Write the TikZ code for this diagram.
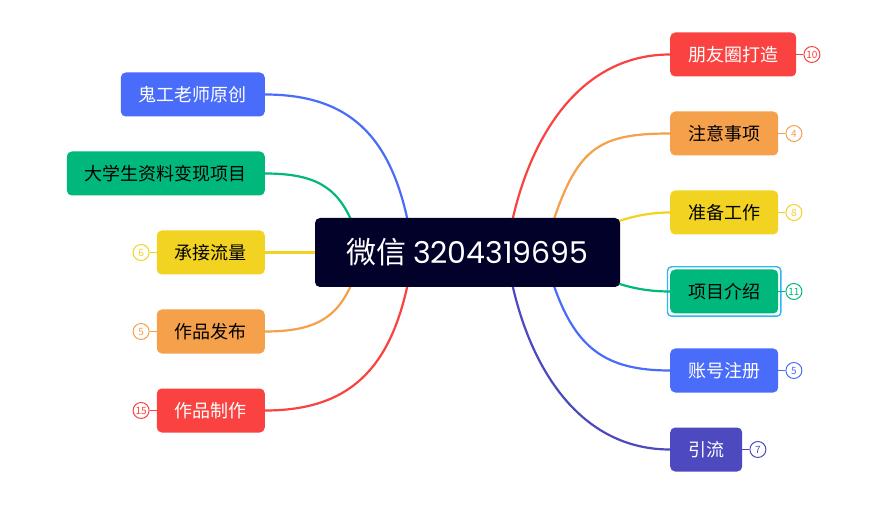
\documentclass[tikz,border=0pt]{standalone}
\usepackage{fontspec}
\setmainfont{Noto Sans CJK SC}
\newfontfamily\numfont{Poppins}
\usetikzlibrary{positioning,fit}
\definecolor{xred}{HTML}{FA4340}
\definecolor{xorange}{HTML}{F5A04B}
\definecolor{xyellow}{HTML}{F2D322}
\definecolor{xgreen}{HTML}{00B87B}
\definecolor{xblue}{HTML}{4A6CFA}
\definecolor{xpurple}{HTML}{4D49BE}
\definecolor{xroot}{HTML}{02012A}
\definecolor{xsel}{HTML}{2DB8F0}
\tikzset{
  topic/.style={rounded corners=5pt, minimum height=44pt, inner xsep=18pt,
    inner ysep=0pt, font=\fontsize{18}{18}\selectfont},
  root/.style={rounded corners=5pt, fill=xroot, text=white, minimum width=305pt,
    minimum height=69pt, font=\fontsize{30}{30}\selectfont},
  branch/.style={line width=2.2pt},
  badge/.style={circle, draw, line width=1pt, fill=white, minimum size=16pt,
    inner sep=0pt, font=\fontsize{10}{10}\selectfont},
  selbox/.style={draw=xsel, line width=1.4pt, rounded corners=4pt, inner sep=2.5pt},
}
\begin{document}
\begin{tikzpicture}[x=1pt,y=-1pt]
  \fill[white] (0,0) rectangle (891,510);
  \useasboundingbox (0,0) rectangle (891,510);
  % 右侧主题
  \foreach \n/\y/\col/\tc/\txt in {r1/54.5/xred/white/朋友圈打造,
      r2/133.5/xorange/black/注意事项, r3/212.5/xyellow/black/准备工作,
      r4/291.5/xgreen/black/项目介绍, r5/370.5/xblue/white/账号注册,
      r6/449.5/xpurple/white/引流}
    \node[topic, fill=\col, text=\tc, anchor=west] (\n) at (670,\y) {\txt};
  % 左侧主题
  \foreach \n/\y/\col/\tc/\txt in {l1/94.5/xblue/white/鬼工老师原创,
      l2/173.5/xgreen/black/大学生资料变现项目, l3/252.5/xyellow/black/承接流量,
      l4/331.5/xorange/black/作品发布, l5/410.5/xred/white/作品制作}
    \node[topic, fill=\col, text=\tc, anchor=east] (\n) at (265,\y) {\txt};
  \node[selbox, fit=(r4)] (sel) {};
  % 数字标记
  \foreach \n/\num/\col in {r1/10/xred, r2/4/xorange, r3/8/xyellow,
      r4/11/xgreen, r5/5/xblue, r6/7/xpurple} {
    \node[badge, draw=\col, text=\col, right=7pt of \n] (b\n) {\num};
    \draw[\col, line width=1.5pt] (\n.east) -- (b\n.west);
  }
  \foreach \n/\num/\col in {l3/6/xyellow, l4/5/xorange, l5/15/xred} {
    \node[badge, draw=\col, text=\col, left=7pt of \n] (b\n) {\num};
    \draw[\col, line width=1.5pt] (\n.west) -- (b\n.east);
  }
  % 分支起点, 藏在中心主题下面
  \coordinate (o-r1) at (512,222);
  \coordinate (o-r2) at (553,222);
  \coordinate (o-r3) at (600,228);
  \coordinate (o-r4) at (600,277);
  \coordinate (o-r5) at (553,283);
  \coordinate (o-r6) at (512,283);
  \coordinate (o-l1) at (408,222);
  \coordinate (o-l2) at (352,222);
  \coordinate (o-l3) at (320,252.5);
  \coordinate (o-l4) at (352,283);
  \coordinate (o-l5) at (408,283);
  \draw[branch, xred] (o-r1) .. controls +(19,-87) and +(-89,0) .. (r1.west);
  \draw[branch, xorange] (o-r2) .. controls +(25,-75) and +(-70,0) .. (r2.west);
  \draw[branch, xyellow] (o-r3) .. controls +(25,-10) and +(-25,0) .. (r3.west);
  \draw[branch, xgreen] (o-r4) .. controls +(25,10) and +(-25,0) .. (r4.west);
  \draw[branch, xblue] (o-r5) .. controls +(22,65) and +(-65,0) .. (r5.west);
  \draw[branch, xpurple] (o-r6) .. controls +(19,87) and +(-89,0) .. (r6.west);
  \draw[branch, xblue] (o-l1) .. controls +(-18,-85) and +(85,0) .. (l1.east);
  \draw[branch, xgreen] (o-l2) .. controls +(-15,-35) and +(50,0) .. (l2.east);
  \draw[branch, xyellow] (o-l3) -- (l3.east);
  \draw[branch, xorange] (o-l4) .. controls +(-15,35) and +(50,0) .. (l4.east);
  \draw[branch, xred] (o-l5) .. controls +(-18,85) and +(85,0) .. (l5.east);
  % 中心主题
  \node[root] (root) at (467.5,252.5) {微信 {\numfont 3204319695}};
\end{tikzpicture}
\end{document}
